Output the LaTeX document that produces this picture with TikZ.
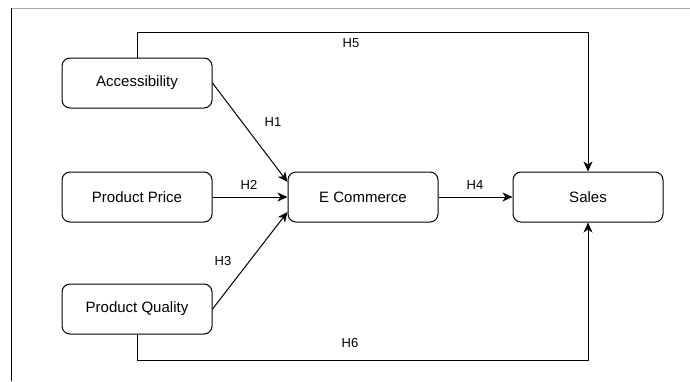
\documentclass[tikz,border=0pt]{standalone}
\usepackage{fontspec}
\setmainfont{Liberation Sans}
\usetikzlibrary{arrows.meta}

\begin{document}
\begin{tikzpicture}[x=1pt,y=-1pt,line width=1pt]
  \tikzstyle{box}=[draw,rounded corners=8pt,minimum width=150pt,minimum height=50pt,
                   font=\fontsize{15}{18}\selectfont]
  \tikzstyle{hyp}=[font=\fontsize{13}{16}\selectfont]
  \tikzstyle{line}=[draw,-{Stealth[length=10pt,width=9pt,inset=3pt]}]
  \useasboundingbox (0,0) rectangle (690,381);
  % frame
  \draw[black!35] (11,8) -- (690,8);
  \draw (11,8) -- (11,381);
  % boxes
  \node[box] (acc)   at (137,83)  {Accessibility};
  \node[box] (price) at (137,197) {Product Price};
  \node[box] (qual)  at (137,309) {Product Quality};
  \node[box] (ecom)  at (363,197) {E Commerce};
  \node[box] (sales) at (588,197) {Sales};
  % paths
  \path[line] (acc.east) -- ([yshift=15pt]ecom.west);
  \path[line] (price.east) -- (ecom.west);
  \path[line] (qual.east) -- ([yshift=-15pt]ecom.west);
  \path[line] (ecom.east) -- (sales.west);
  \path[line] (acc.north) -- (acc.north |- 0,32) -| (sales.north);
  \path[line] (qual.south) -- (qual.south |- 0,360) -| (sales.south);
  % labels
  \node[hyp] (h1) at (273,122) {H1};
  \node[hyp] (h2) at (249,185) {H2};
  \node[hyp] (h3) at (223,261) {H3};
  \node[hyp] (h4) at (475,185) {H4};
  \node[hyp] (h5) at (351,43)  {H5};
  \node[hyp] (h6) at (350,343) {H6};
\end{tikzpicture}
\end{document}
